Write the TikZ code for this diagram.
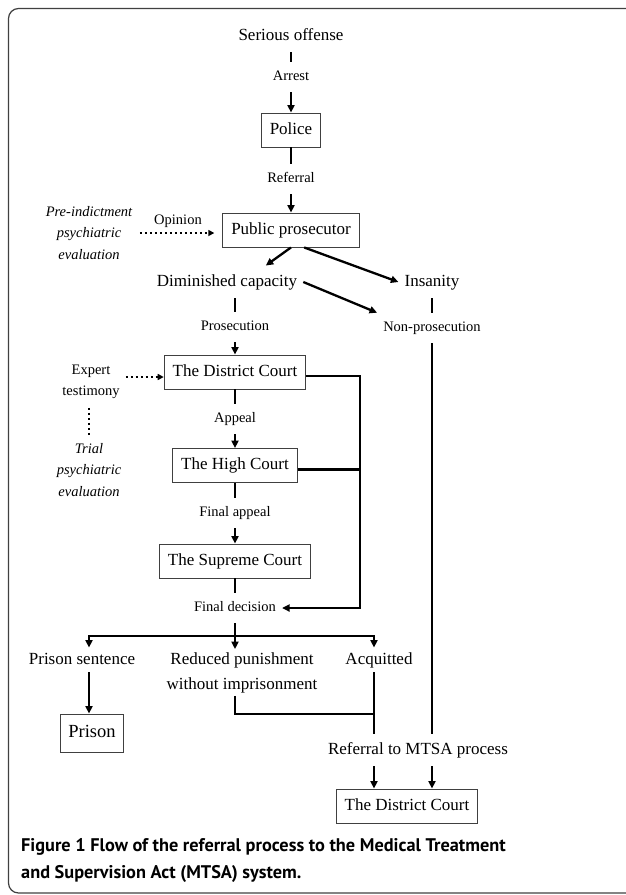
\documentclass[tikz,border=0pt]{standalone}
\usepackage{fontspec}
\setmainfont{Liberation Serif}
\newfontfamily\captionfont{PT Sans}
\usetikzlibrary{arrows.meta}

\providecommand{\boxfontsize}{\fontsize{17}{25}\selectfont}
\providecommand{\labelfontsize}{\fontsize{14.5}{21.5}\selectfont}
\providecommand{\captionfontsize}{\fontsize{18.3}{27}\selectfont}

\tikzset{
    flowbox/.style={draw=black!75,line width=0.9pt,inner xsep=8.5pt,inner ysep=0pt,minimum height=34pt,text height=12pt,text depth=3.5pt,font=\boxfontsize},
    term/.style={inner xsep=6pt,inner ysep=8.5pt,text height=12pt,text depth=3.5pt,font=\boxfontsize},
    tag/.style={inner xsep=6pt,inner ysep=8.5pt,text height=10.2pt,text depth=3pt,font=\labelfontsize},
    remark/.style={align=center,inner xsep=6pt,inner ysep=8.5pt,font=\labelfontsize},
    note/.style={remark,font=\labelfontsize\itshape},
    tick/.style={line width=2.3pt},
    flow/.style={tick,-{Triangle[length=7.5pt,width=7pt]}},
    hint/.style={line width=2pt,dash pattern=on 2pt off 3pt},
}

\begin{document}
\begin{tikzpicture}[x=1pt,y=-1pt]
    \pgfmathsetmacro{\midx}{291}
    \pgfmathsetmacro{\courtx}{235}
    \useasboundingbox (0,0) rectangle (625,895);
    \draw[black!75,line width=1.2pt,rounded corners=10pt] (8.5,8.5) rectangle (650,893);

    % top column
    \node[term] (offense) at (\midx,36) {Serious offense};
    \node[tag] (arrest) at (\midx,77) {Arrest};
    \node[flowbox] (police) at (\midx,130) {Police};
    \node[tag] (referral) at (\midx,179) {Referral};
    \node[flowbox] (prosecutor) at (\midx,230) {Public prosecutor};
    \node[note] (preeval) at (89,233) {Pre-indictment\\psychiatric\\evaluation};
    \node[tag] (opinion) at (178,221) {Opinion};
    \node[term] (diminished) at (227,282) {Diminished capacity};
    \node[term] (insanity) at (432,282) {Insanity};
    \node[tag] (nonpros) at (432,328) {Non-prosecution};

    % courts
    \node[tag] (prosecution) at (\courtx,327) {Prosecution};
    \node[flowbox] (district) at (\courtx,372) {The District Court};
    \node[remark] (expert) at (91,382) {Expert\\testimony};
    \node[note] (trialeval) at (89,470) {Trial\\psychiatric\\evaluation};
    \node[tag] (appeal) at (\courtx,419) {Appeal};
    \node[flowbox] (high) at (\courtx,465.5) {The High Court};
    \node[tag] (finalappeal) at (\courtx,513) {Final appeal};
    \node[flowbox] (supreme) at (\courtx,561) {The Supreme Court};
    \node[tag] (decision) at (\courtx,608) {Final decision};

    % outcomes
    \node[term,inner ysep=4.5pt] (sentence) at (82,660) {Prison sentence};
    \node[term,align=center,text height=,text depth=,inner ysep=3pt] (reduced) at (242,672.5) {Reduced punishment\\without imprisonment};
    \node[term,inner ysep=4.5pt] (acquitted) at (379,660) {Acquitted};
    \node[flowbox,minimum height=38pt,inner xsep=8pt,font=\fontsize{18.5}{22}\selectfont] (prison) at (92,733) {Prison};
    \node[term] (mtsa) at (418,750) {Referral to MTSA process};
    \node[flowbox] (court) at (407,806) {The District Court};

    \coordinate (rail) at (360,608);
    \coordinate (fork) at (\courtx,636);
    \coordinate (join) at (374,714);

    \draw[tick] (offense) -- (arrest);
    \draw[flow] (arrest) -- (police);
    \draw[tick] (police) -- (referral);
    \draw[flow] (referral) -- (prosecutor);
    \draw[hint,-{Triangle[length=6pt,width=6pt]},shorten <=1.5pt,shorten >=8pt] (preeval.east) -- (preeval.east -| prosecutor.west);
    \draw[flow] (prosecutor.south) -- (diminished.23);
    \draw[flow] (prosecutor.-53) -- (insanity.west);
    \draw[flow] (diminished.east) -- (nonpros.north west);
    \draw[tick] (diminished.south -| prosecution) -- (prosecution);
    \draw[tick] (insanity) -- (nonpros);
    \draw[tick] (nonpros.south) -- (nonpros.south |- mtsa.north);

    \draw[flow] (prosecution) -- (district);
    \draw[hint,-{Triangle[length=6pt,width=6pt]}] ([yshift=5pt]expert.east) -- ([yshift=-5pt]district.west);
    \draw[hint] (expert.south -| trialeval) -- (trialeval.north);
    \draw[tick] (district) -- (appeal);
    \draw[flow] (appeal) -- (high);
    \draw[tick] (high) -- (finalappeal);
    \draw[flow] (finalappeal) -- (supreme);
    \draw[tick] (supreme) -- (decision);
    \draw[flow] ([yshift=-4pt]district.east) -| (rail) -- (decision.east);
    \draw[tick] ([yshift=-4pt]high.east) -| (rail);

    \draw[flow] (decision.south) -- (decision.south |- reduced.north);
    \draw[flow] (fork) -| ([xshift=7pt]sentence.north);
    \draw[flow] (fork) -| ([xshift=-5pt]acquitted.north);
    \draw[flow] ([xshift=7pt]sentence.south) -- ([xshift=-3pt]prison.north);
    \draw[tick] (reduced.south -| fork) |- (join);
    \draw[tick] ([xshift=-5pt]acquitted.south) -- (join) -- (join |- mtsa.north);
    \draw[flow] (mtsa.south -| join) -- (court.north -| join);
    \draw[flow] (mtsa.south -| nonpros) -- (court.north -| nonpros);

    \node[anchor=north west,align=left,inner sep=0pt,font=\captionfont\bfseries\captionfontsize] (caption) at (21,838) {Figure 1 Flow of the referral process to the Medical Treatment\\and Supervision Act (MTSA) system.};
\end{tikzpicture}
\end{document}
